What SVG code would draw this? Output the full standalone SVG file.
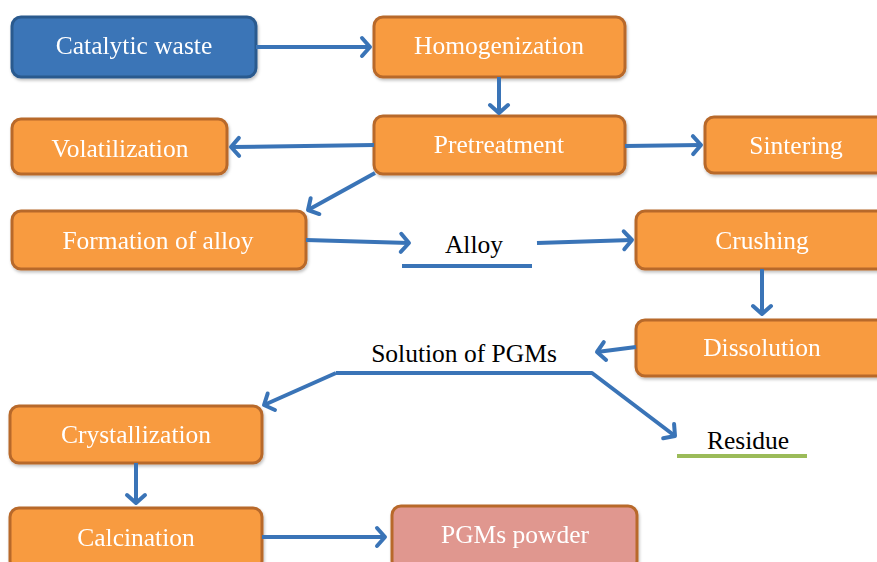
<svg xmlns="http://www.w3.org/2000/svg" width="877" height="562" viewBox="0 0 877 562">
<style>
  .box rect { stroke-width: 3; }
  .orange rect { fill: #f89b40; stroke: #b8692b; }
  .blue rect { fill: #3a74b7; stroke: #2a5a8e; }
  .pink rect { fill: #e0978f; stroke: #b8692b; }
  .box text { fill: #ffffff; font-size: 25.5px; text-anchor: middle; }
  .lbl { fill: #000000; font-size: 25.5px; text-anchor: middle; }
  .conn { fill: none; stroke: #3a74b7; stroke-width: 4; stroke-linejoin: round; }
</style>
<defs>
  <marker id="arr" markerWidth="10" markerHeight="10" refX="7" refY="5" orient="auto" markerUnits="userSpaceOnUse" viewBox="0 0 10 10" overflow="visible">
    <path d="M-1,-4 L7,5 L-1,14" fill="none" stroke="#3a74b7" stroke-width="4" stroke-linecap="round" stroke-linejoin="round"/>
  </marker>
  <filter id="sh" x="-10%" y="-10%" width="120%" height="130%">
    <feDropShadow dx="1" dy="2" stdDeviation="1.5" flood-color="#000" flood-opacity="0.25"/>
  </filter>
</defs>

<g font-family="'Liberation Serif', 'DejaVu Serif', serif">
<g id="catalytic-waste" class="box blue" filter="url(#sh)">
  <rect x="12" y="17" width="244" height="60" rx="9"/>
  <text x="134" y="54">Catalytic waste</text>
</g>
<g id="homogenization" class="box orange" filter="url(#sh)">
  <rect x="374" y="17" width="251" height="60" rx="9"/>
  <text x="499" y="54">Homogenization</text>
</g>
<g id="pretreatment" class="box orange" filter="url(#sh)">
  <rect x="374" y="116" width="251" height="58" rx="9"/>
  <text x="499" y="153">Pretreatment</text>
</g>
<g id="volatilization" class="box orange" filter="url(#sh)">
  <rect x="12" y="119" width="215" height="55" rx="9"/>
  <text x="120" y="157">Volatilization</text>
</g>
<g id="sintering" class="box orange" filter="url(#sh)">
  <rect x="705" y="117" width="185" height="56" rx="9"/>
  <text x="796" y="154">Sintering</text>
</g>
<g id="formation-of-alloy" class="box orange" filter="url(#sh)">
  <rect x="12" y="211" width="294" height="58" rx="9"/>
  <text x="158" y="249">Formation of alloy</text>
</g>
<g id="alloy">
  <text class="lbl" x="474" y="253">Alloy</text>
  <line x1="402" y1="266" x2="532" y2="266" stroke="#3a74b7" stroke-width="4"/>
</g>
<g id="crushing" class="box orange" filter="url(#sh)">
  <rect x="636" y="211" width="254" height="58" rx="9"/>
  <text x="762" y="249">Crushing</text>
</g>
<g id="dissolution" class="box orange" filter="url(#sh)">
  <rect x="636" y="320" width="254" height="56" rx="9"/>
  <text x="762" y="356">Dissolution</text>
</g>
<g id="solution-of-pgms">
  <text class="lbl" x="464" y="362">Solution of PGMs</text>
</g>
<g id="residue">
  <text class="lbl" x="748" y="449">Residue</text>
  <line x1="677" y1="456" x2="807" y2="456" stroke="#9bbb59" stroke-width="4"/>
</g>
<g id="crystallization" class="box orange" filter="url(#sh)">
  <rect x="10" y="406" width="252" height="57" rx="9"/>
  <text x="136" y="443">Crystallization</text>
</g>
<g id="calcination" class="box orange" filter="url(#sh)">
  <rect x="10" y="508" width="252" height="62" rx="9"/>
  <text x="136" y="546">Calcination</text>
</g>
<g id="pgms-powder" class="box pink" filter="url(#sh)">
  <rect x="392" y="506" width="245" height="64" rx="9"/>
  <text x="515" y="543">PGMs powder</text>
</g>
</g>

<g id="connectors">
  <line class="conn" x1="256" y1="47" x2="370" y2="47" marker-end="url(#arr)"/>
  <line class="conn" x1="499" y1="77" x2="499" y2="113" marker-end="url(#arr)"/>
  <line class="conn" x1="374" y1="145" x2="231" y2="147" marker-end="url(#arr)"/>
  <line class="conn" x1="625" y1="146" x2="701" y2="145" marker-end="url(#arr)"/>
  <line class="conn" x1="375" y1="173" x2="308" y2="210" marker-end="url(#arr)"/>
  <line class="conn" x1="306" y1="240" x2="409" y2="243" marker-end="url(#arr)"/>
  <line class="conn" x1="537" y1="243" x2="632" y2="240" marker-end="url(#arr)"/>
  <line class="conn" x1="762" y1="269" x2="762" y2="314" marker-end="url(#arr)"/>
  <line class="conn" x1="636" y1="347" x2="597" y2="352" marker-end="url(#arr)"/>
  <polyline class="conn" points="336,373 592,373 675,436" marker-end="url(#arr)"/>
  <polyline class="conn" points="336,373 264,405" marker-end="url(#arr)"/>
  <line class="conn" x1="136" y1="463" x2="136" y2="503" marker-end="url(#arr)"/>
  <line class="conn" x1="262" y1="537" x2="385" y2="537" marker-end="url(#arr)"/>
</g>
</svg>
